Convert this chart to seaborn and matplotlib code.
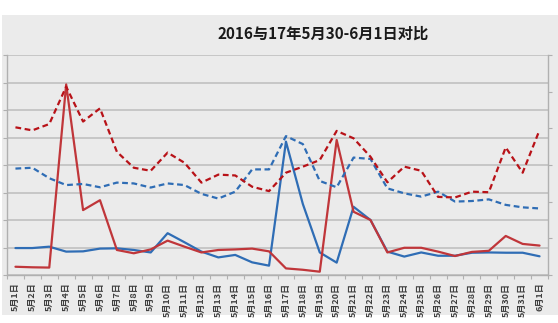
import matplotlib
matplotlib.use("Agg")
import matplotlib.pyplot as plt
import matplotlib.patches as mpatches
import seaborn as sns
import pandas as pd
import numpy as np

# ---- data ----
categories = [f"5月{d}日" for d in range(1, 32)] + ["6月1日"]

blue_solid = [0.98, 0.98, 1.03, 0.85, 0.86, 0.96, 0.97, 0.91,
              0.82, 1.52, 1.19, 0.85, 0.64, 0.73, 0.46, 0.34,
              4.85, 2.58, 0.82, 0.45, 2.48, 2.00, 0.85, 0.67,
              0.82, 0.70, 0.70, 0.81, 0.82, 0.81, 0.81, 0.68]
red_solid = [0.30, 0.28, 0.27, 6.93, 2.36, 2.72, 0.91, 0.79,
             0.93, 1.25, 1.03, 0.82, 0.91, 0.93, 0.96, 0.86,
             0.24, 0.19, 0.12, 4.91, 2.30, 2.00, 0.82, 0.99,
             0.99, 0.85, 0.69, 0.84, 0.88, 1.42, 1.13, 1.07]
blue_dashed = [3.87, 3.90, 3.52, 3.27, 3.31, 3.19, 3.36, 3.33,
               3.18, 3.33, 3.27, 2.95, 2.78, 3.03, 3.84, 3.84,
               5.05, 4.76, 3.42, 3.19, 4.27, 4.22, 3.15, 2.97,
               2.85, 3.03, 2.67, 2.69, 2.75, 2.55, 2.46, 2.42]
red_dashed = [5.37, 5.26, 5.49, 6.85, 5.58, 6.06, 4.48, 3.90,
              3.79, 4.45, 4.08, 3.36, 3.65, 3.62, 3.21, 3.05,
              3.72, 3.94, 4.18, 5.24, 4.97, 4.30, 3.37, 3.94,
              3.79, 2.84, 2.82, 3.03, 3.01, 4.64, 3.72, 5.27]

title = "2016与17年5月30-6月1日对比"

# ---- style ----
sns.set_theme(style="white")
plt.rcParams['font.family'] = ['Noto Sans CJK SC', 'DejaVu Sans']

W, H = 558, 323
fig = plt.figure(figsize=(W / 100, H / 100), dpi=100)
fig.patch.set_facecolor("white")
fig.add_artist(mpatches.Rectangle((2 / W, (H - 315) / H), 556 / W, 300 / H,
                                  transform=fig.transFigure, facecolor="#ebebeb",
                                  edgecolor="none", zorder=-10))

ax = fig.add_axes([7 / W, (H - 275) / H, 541 / W, 220 / H])
ax.set_facecolor("none")

x = np.arange(len(categories))
series = [
    (blue_solid, "#2f6db5", "-"),
    (red_solid, "#c0363a", "-"),
    (blue_dashed, "#2f6db5", "--"),
    (red_dashed, "#b81218", "--"),
]
for vals, col, ls in series:
    df = pd.DataFrame({"x": x, "y": vals})
    line = sns.lineplot(data=df, x="x", y="y", ax=ax, color=col, linewidth=1.6,
                        linestyle=ls, legend=False)
for ln in ax.get_lines()[2:]:
    ln.set_dashes((2.6, 1.6))

ax.set_xlim(-0.5, len(categories) - 0.5)
ax.set_ylim(0, 8)
ax.set_yticks(np.arange(0, 9, 1))
ax.set_yticklabels([])
ax.yaxis.grid(True, color="#bdbdbd", linewidth=1.1)
ax.set_axisbelow(True)
ax.set_xlabel("")
ax.set_ylabel("")

ax.set_xticks(x)
ax.set_xticklabels(categories, rotation=90, fontsize=6.5, fontweight="bold",
                   color="#404040")
ax.set_xticks(np.arange(-0.5, len(categories), 1), minor=True)
ax.tick_params(axis="x", which="major", length=0, pad=5.5)
ax.tick_params(axis="x", which="minor", length=3, color="#b0b0b0", width=0.8,
               bottom=True)
ax.tick_params(axis="y", which="major", length=3, color="#b0b0b0", width=0.8,
               left=True)

for s in ["top", "right"]:
    ax.spines[s].set_visible(False)
for s in ["left", "bottom"]:
    ax.spines[s].set_color("#b0b0b0")
    ax.spines[s].set_linewidth(1.0)

ax2 = ax.twinx()
ax2.set_ylim(0, 6)
ax2.set_yticks(np.arange(0, 7, 1))
ax2.set_yticklabels([])
ax2.tick_params(axis="y", length=3, color="#b0b0b0", width=0.8, right=True)
for s in ["top", "left", "bottom"]:
    ax2.spines[s].set_visible(False)
ax2.spines["right"].set_color("#b0b0b0")
ax2.spines["right"].set_linewidth(1.0)

fig.text(323 / W, (H - 34) / H, title, ha="center", va="center",
         fontsize=11, fontweight="bold", color="#1a1a1a")

fig.savefig("out.png", dpi=100, facecolor=fig.get_facecolor())
